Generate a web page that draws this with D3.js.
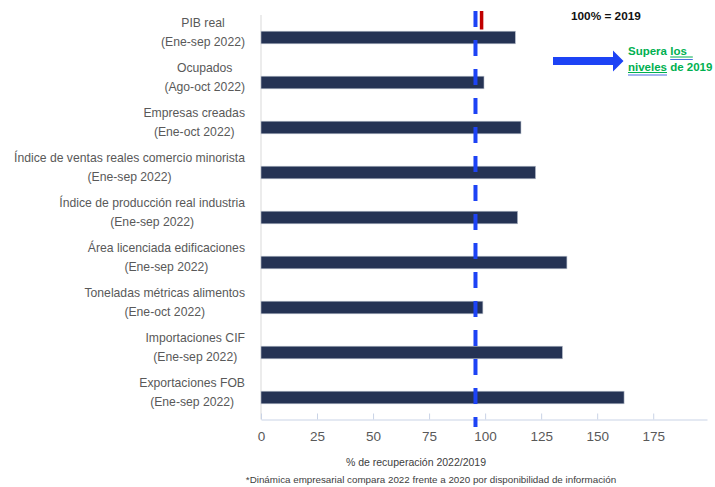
<!DOCTYPE html>
<html>
<head>
<meta charset="utf-8">
<script src="https://d3js.org/d3.v7.min.js"></script>
<style>
  body { margin: 0; background: #fff; }
  svg { display: block; font-family: "Liberation Sans", Arial, sans-serif; }
</style>
</head>
<body>
<div id="chart"></div>
<script>
// chart data
const categories = [
  ["PIB real", "(Ene-sep 2022)"],
  ["Ocupados", "(Ago-oct 2022)"],
  ["Empresas creadas", "(Ene-oct 2022)"],
  ["Índice de ventas reales comercio minorista", "(Ene-sep 2022)"],
  ["Índice de producción real industria", "(Ene-sep 2022)"],
  ["Área licenciada edificaciones", "(Ene-sep 2022)"],
  ["Toneladas métricas alimentos", "(Ene-oct 2022)"],
  ["Importaciones CIF", "(Ene-sep 2022)"],
  ["Exportaciones FOB", "(Ene-sep 2022)"]
];
const values = [113.5, 99.5, 116, 122.5, 114.5, 136.5, 99, 134.5, 162];
const tickValues = [0, 25, 50, 75, 100, 125, 150, 175];
const refLine = 95.7;   // blue dashed line
const refMark = 98.2;   // small red mark
const axisTitle = "% de recuperación 2022/2019";
const footnote = "*Dinámica empresarial compara 2022 frente a 2020 por disponibilidad de información";

const width = 715, height = 487;
const svg = d3.select("#chart").append("svg")
  .attr("width", width)
  .attr("height", height);

const x = d3.scaleLinear().domain([0, 199]).range([261, 707]);
const y = d3.scaleBand()
  .domain(d3.range(categories.length))
  .range([15, 420])
  .paddingInner(0.72)
  .paddingOuter(0.36);

// y axis line
svg.append("line")
  .attr("x1", x(0)).attr("x2", x(0))
  .attr("y1", 15).attr("y2", 419.5)
  .attr("stroke", "#d9d9d9").attr("stroke-width", 1);

// x axis
const xAxis = svg.append("g")
  .attr("transform", "translate(0,419.5)")
  .call(d3.axisBottom(x).tickValues(tickValues).tickSizeInner(-6).tickSizeOuter(0).tickPadding(12));
xAxis.select(".domain").attr("stroke", "#c9d3e6");
xAxis.selectAll(".tick line").attr("stroke", "#c9d3e6");
xAxis.selectAll(".tick text")
  .attr("fill", "#595959")
  .attr("font-size", 13.5)
  .attr("font-family", "Liberation Sans, Arial, sans-serif");

// bars
svg.selectAll("rect.bar")
  .data(values)
  .join("rect")
  .attr("class", "bar")
  .attr("x", x(0))
  .attr("y", (d, i) => y(i))
  .attr("width", d => x(d) - x(0))
  .attr("height", y.bandwidth())
  .attr("fill", "#253354")
  .attr("stroke", "#b8bfcc")
  .attr("stroke-width", 0.6);

// category labels: two centered lines, block right aligned
const labels = svg.selectAll("g.label")
  .data(categories)
  .join("g")
  .attr("class", "label");

labels.each(function (d, i) {
  const g = d3.select(this);
  const cy = y(i) + y.bandwidth() / 2;
  const t = d.map((line, k) => g.append("text")
    .attr("y", cy + (k === 0 ? -10.5 : 8))
    .attr("text-anchor", "middle")
    .attr("font-size", 12.2)
    .attr("fill", "#595959")
    .text(line));
  const w = d3.max(t, n => n.node().getComputedTextLength());
  t.forEach(n => n.attr("x", 245 - w / 2));
});

// reference lines
svg.append("line")
  .attr("x1", x(refLine)).attr("x2", x(refLine))
  .attr("y1", 11).attr("y2", 427)
  .attr("stroke", "#1d43f5").attr("stroke-width", 4)
  .attr("stroke-dasharray", "16,13");

svg.append("line")
  .attr("x1", x(refMark) + 0.5).attr("x2", x(refMark) + 0.5)
  .attr("y1", 11).attr("y2", 29.5)
  .attr("stroke", "#c00000").attr("stroke-width", 3.5);

// annotations
svg.append("text")
  .attr("x", 571).attr("y", 20)
  .attr("font-size", 11.8).attr("font-weight", "bold")
  .attr("fill", "#111")
  .text("100% = 2019");

svg.append("path")
  .attr("d", "M553,57 L613,57 L613,50.5 L623.5,61 L613,71.5 L613,65 L553,65 Z")
  .attr("fill", "#1d43f5");

const green = "#00b050";
const ann = svg.append("g").attr("font-size", 11.5).attr("font-weight", "bold").attr("fill", green);
const t1 = ann.append("text").attr("x", 628).attr("y", 55);
t1.append("tspan").text("Supera ");
t1.append("tspan").text("los");
const t2 = ann.append("text").attr("x", 628).attr("y", 70.5);
t2.append("tspan").text("niveles");
t2.append("tspan").text(" de 2019");

const sw = t1.node().getSubStringLength(0, 7);
const lw = t1.node().getSubStringLength(7, 3) + 6;
const nw = t2.node().getSubStringLength(0, 7);
[[628 + sw, 55, lw], [628, 70.5, nw]].forEach(([ux, uy, uw]) => {
  svg.append("line").attr("x1", ux).attr("x2", ux + uw)
    .attr("y1", uy + 2).attr("y2", uy + 2)
    .attr("stroke", green).attr("stroke-width", 1);
  svg.append("line").attr("x1", ux).attr("x2", ux + uw)
    .attr("y1", uy + 4.5).attr("y2", uy + 4.5)
    .attr("stroke", "#4a6ee0").attr("stroke-width", 1);
});

// axis title and footnote
svg.append("text")
  .attr("x", 416).attr("y", 465.5)
  .attr("text-anchor", "middle")
  .attr("font-size", 10.5).attr("fill", "#404040")
  .text(axisTitle);

svg.append("text")
  .attr("x", 431).attr("y", 483)
  .attr("text-anchor", "middle")
  .attr("font-size", 9.8).attr("fill", "#404040")
  .text(footnote);
</script>
</body>
</html>
